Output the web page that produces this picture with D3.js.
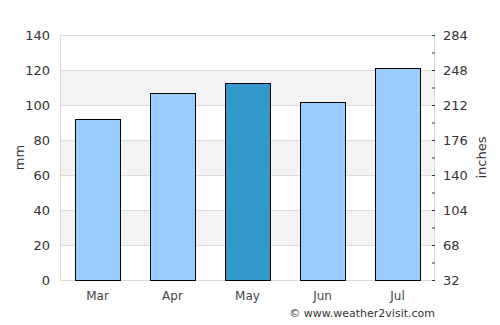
<!DOCTYPE html>
<html>
<head>
<meta charset="utf-8">
<script src="https://cdn.jsdelivr.net/npm/d3@7"></script>
<style>
  body { margin: 0; background: #fff; }
  text { font-family: "DejaVu Sans", sans-serif; }
</style>
</head>
<body>
<div id="chart"></div>
<script>
// data
var months = ["Mar", "Apr", "May", "Jun", "Jul"];
var rainfall = [92, 107, 112.5, 102, 121];
var highlight = ["May"];
var leftTicks = [0, 20, 40, 60, 80, 100, 120, 140];
var rightTicks = [32, 68, 104, 140, 176, 212, 248, 284];

var svgWidth = 500, svgHeight = 325;
var margin = { top: 35, right: 65, bottom: 45, left: 60 };
var width = svgWidth - margin.left - margin.right;
var height = svgHeight - margin.top - margin.bottom;

var svg = d3.select("#chart")
  .append("svg")
  .attr("width", svgWidth)
  .attr("height", svgHeight);

var chartGroup = svg.append("g")
  .attr("transform", `translate(${margin.left}, ${margin.top})`);

var x = d3.scaleBand().domain(months).range([0, width]).paddingInner(0.4).paddingOuter(0.2);
var y = d3.scaleLinear().domain([0, 140]).range([height, 0]);
var y2 = d3.scaleLinear().domain([32, 284]).range([height, 0]);

// alternating bands
var bands = d3.range(leftTicks.length - 1).filter(i => i % 2 === 1);
chartGroup.selectAll(".band")
  .data(bands)
  .enter()
  .append("rect")
  .attr("x", 0)
  .attr("width", width)
  .attr("y", i => y(leftTicks[i + 1]))
  .attr("height", i => y(leftTicks[i]) - y(leftTicks[i + 1]))
  .attr("fill", "#f3f3f3");

// gridlines
chartGroup.selectAll(".grid")
  .data(leftTicks)
  .enter()
  .append("line")
  .attr("x1", 0)
  .attr("x2", width)
  .attr("y1", d => Math.round(y(d)) + 0.5)
  .attr("y2", d => Math.round(y(d)) + 0.5)
  .attr("stroke", "#dddddd");

// left and bottom frame
chartGroup.append("line")
  .attr("x1", 0.5).attr("x2", 0.5).attr("y1", 0).attr("y2", height)
  .attr("stroke", "#dddddd");
chartGroup.append("line")
  .attr("x1", width - 0.5).attr("x2", width - 0.5).attr("y1", 0).attr("y2", height)
  .attr("stroke", "#dddddd");

// bars
chartGroup.selectAll(".bar")
  .data(months)
  .enter()
  .append("rect")
  .attr("x", d => Math.round(x(d)) + 0.5)
  .attr("width", Math.round(x.bandwidth()))
  .attr("y", (d, i) => Math.round(y(rainfall[i])) + 0.5)
  .attr("height", (d, i) => height - Math.round(y(rainfall[i])))
  .attr("fill", d => highlight.includes(d) ? "#3399cc" : "#99ccff")
  .attr("stroke", "#000")
  .attr("stroke-width", 1);

// left axis labels
chartGroup.selectAll(".ltick")
  .data(leftTicks)
  .enter()
  .append("text")
  .attr("x", -10)
  .attr("y", d => y(d) + 5)
  .attr("text-anchor", "end")
  .attr("fill", "#333")
  .style("font-size", "13px")
  .text(d => d);

// right axis
var yAxisRight = d3.axisRight(y2)
  .tickValues(d3.range(32, 285, 18))
  .tickSize(3)
  .tickFormat("");
var rightAxis = chartGroup.append("g")
  .attr("transform", `translate(${width - 3}, 0)`)
  .call(yAxisRight);
rightAxis.select(".domain").remove();
rightAxis.selectAll("line").attr("stroke", "#333");

chartGroup.selectAll(".rtick")
  .data(rightTicks)
  .enter()
  .append("text")
  .attr("x", width + 8)
  .attr("y", d => y2(d) + 5)
  .attr("fill", "#333")
  .style("font-size", "13px")
  .text(d => d);

// month labels
chartGroup.selectAll(".mlabel")
  .data(months)
  .enter()
  .append("text")
  .attr("x", d => x(d) + x.bandwidth() / 2)
  .attr("y", height + 20)
  .attr("text-anchor", "middle")
  .attr("fill", "#444")
  .style("font-size", "12px")
  .text(d => d);

// axis titles
svg.append("text")
  .attr("transform", `translate(24, ${margin.top + height / 2}) rotate(-90)`)
  .attr("text-anchor", "middle")
  .attr("fill", "#333")
  .style("font-size", "13px")
  .text("mm");

svg.append("text")
  .attr("transform", `translate(486, ${margin.top + height / 2}) rotate(-90)`)
  .attr("text-anchor", "middle")
  .attr("fill", "#333")
  .style("font-size", "13px")
  .text("inches");

svg.append("text")
  .attr("x", margin.left + width)
  .attr("y", 317)
  .attr("text-anchor", "end")
  .attr("fill", "#333")
  .style("font-size", "11px")
  .text("© www.weather2visit.com");
</script>
</body>
</html>
